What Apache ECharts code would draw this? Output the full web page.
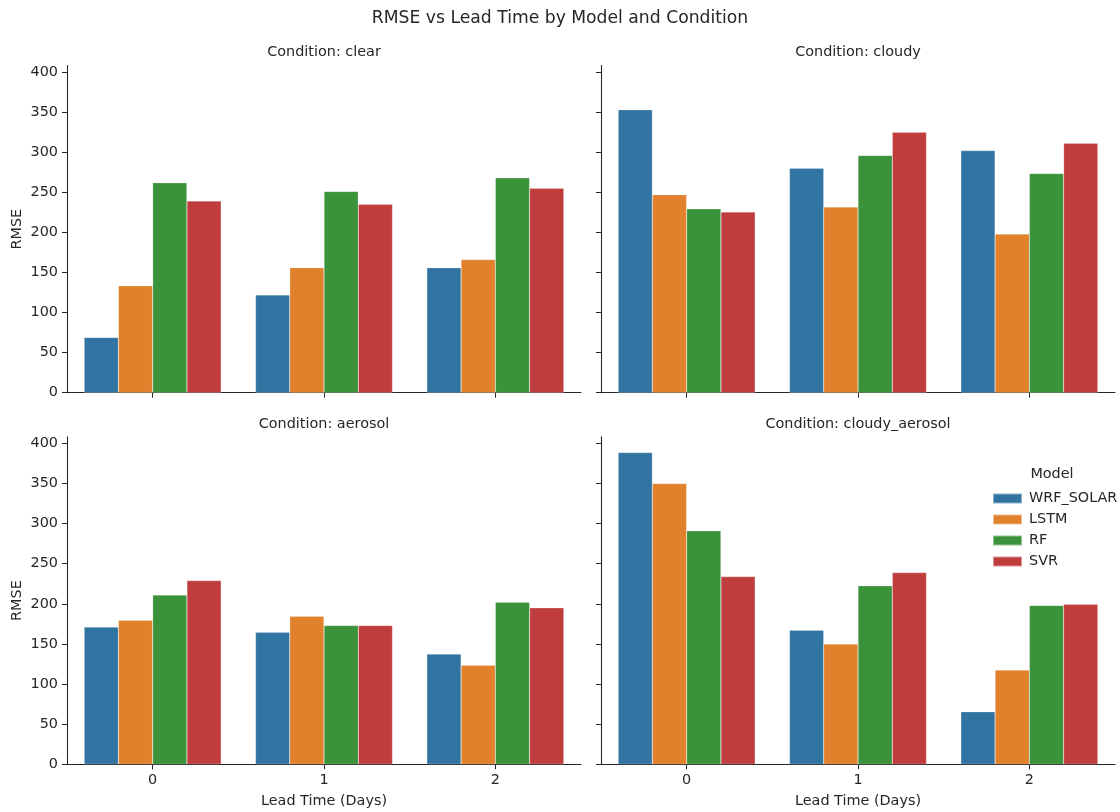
<!DOCTYPE html>
<html>
<head>
<meta charset="utf-8">
<title>RMSE vs Lead Time by Model and Condition</title>
<script src="https://cdn.jsdelivr.net/npm/echarts@6/dist/echarts.min.js"></script>
<style>
  html, body { margin: 0; padding: 0; background: #ffffff; }
  #chart { width: 1120px; height: 812px; }
</style>
</head>
<body>
<div id="chart"></div>
<script>
// Lead times (days) on the x axis of every panel
const leadTimes = ['0', '1', '2'];
// Forecast models, one bar series each
const models = ['WRF_SOLAR', 'LSTM', 'RF', 'SVR'];
// Sky conditions, one panel each
const conditions = ['clear', 'cloudy', 'aerosol', 'cloudy_aerosol'];
// RMSE tick values shown on the y axes
const rmseTicks = [0, 50, 100, 150, 200, 250, 300, 350, 400];

// RMSE per condition: rows follow `models`, columns follow `leadTimes`
const rmseClear = [
  [69, 122, 156],
  [133.5, 156, 166],
  [262, 251, 268],
  [239, 235, 255]
];
const rmseCloudy = [
  [353, 280, 302],
  [247, 231.5, 198],
  [229.5, 296, 273.5],
  [225.5, 325, 311]
];
const rmseAerosol = [
  [171, 164.5, 137.5],
  [179.5, 184.5, 123.5],
  [211, 173, 202],
  [229, 173, 195]
];
const rmseCloudyAerosol = [
  [388.5, 167, 65.5],
  [350, 150, 117.5],
  [291, 222.5, 198],
  [234, 239, 199.5]
];
const panelData = [rmseClear, rmseCloudy, rmseAerosol, rmseCloudyAerosol];

const modelColors = ['#3274a1', '#e1812c', '#3a923a', '#c03d3e'];
const FONT = 'DejaVu Sans';
const INK = '#262626';
const LABEL_SIZE = 14.4;

// Panel boxes: [left, top, width, height]
const boxes = [
  [67, 65.6, 514, 327.1],
  [601, 65.6, 514, 327.1],
  [67, 436.9, 514, 327.4],
  [601, 436.9, 514, 327.4]
];
const Y_MAX = 408;

const grids = [], xAxes = [], yAxes = [], series = [];
boxes.forEach((b, i) => {
  const isLeft = i % 2 === 0;
  const isBottom = i >= 2;
  grids.push({ left: b[0], top: b[1], width: b[2], height: b[3], containLabel: false });
  xAxes.push({
    gridIndex: i,
    type: 'category',
    data: leadTimes,
    boundaryGap: true,
    axisLine: { show: true, lineStyle: { color: INK, width: 1.1 } },
    axisTick: { show: true, alignWithLabel: true, length: 5, lineStyle: { color: INK, width: 1 } },
    axisLabel: { show: isBottom, color: INK, fontFamily: FONT, fontSize: LABEL_SIZE, margin: 9 },
    splitLine: { show: false },
    name: isBottom ? 'Lead Time (Days)' : '',
    nameLocation: 'middle',
    nameGap: 30,
    nameTextStyle: { color: INK, fontFamily: FONT, fontSize: LABEL_SIZE }
  });
  yAxes.push({
    gridIndex: i,
    type: 'value',
    min: 0,
    max: Y_MAX,
    interval: 50,
    axisLine: { show: true, lineStyle: { color: INK, width: 1.1 } },
    axisTick: { show: true, length: 5, customValues: rmseTicks, lineStyle: { color: INK, width: 1 } },
    axisLabel: { show: isLeft, customValues: rmseTicks, color: INK, fontFamily: FONT, fontSize: LABEL_SIZE, margin: 9 },
    splitLine: { show: false },
    name: isLeft ? 'RMSE' : '',
    nameLocation: 'middle',
    nameRotate: 90,
    nameGap: 43,
    nameTextStyle: { color: INK, fontFamily: FONT, fontSize: LABEL_SIZE }
  });
  models.forEach((m, k) => {
    series.push({
      name: m,
      type: 'bar',
      xAxisIndex: i,
      yAxisIndex: i,
      data: panelData[i][k],
      barGap: '0%',
      barCategoryGap: '20%',
      itemStyle: { color: modelColors[k], borderColor: 'rgba(255,255,255,0.45)', borderWidth: 0.5 },
      emphasis: { disabled: true },
      silent: true
    });
  });
});

// Figure title, panel titles and legend heading
const texts = [
  { x: 560, y: 19, text: 'RMSE vs Lead Time by Model and Condition', size: 17.2 },
  { x: 324, y: 52, text: 'Condition: ' + conditions[0], size: LABEL_SIZE },
  { x: 858, y: 52, text: 'Condition: ' + conditions[1], size: LABEL_SIZE },
  { x: 324, y: 424, text: 'Condition: ' + conditions[2], size: LABEL_SIZE },
  { x: 858, y: 424, text: 'Condition: ' + conditions[3], size: LABEL_SIZE },
  { x: 1052, y: 474, text: 'Model', size: LABEL_SIZE }
];

const option = {
  backgroundColor: '#ffffff',
  animation: false,
  textStyle: { fontFamily: FONT },
  grid: grids,
  xAxis: xAxes,
  yAxis: yAxes,
  series: series,
  legend: {
    data: models,
    orient: 'vertical',
    left: 987,
    top: 486.5,
    itemWidth: 29,
    itemHeight: 10,
    itemGap: 7,
    icon: 'rect',
    textStyle: { color: INK, fontFamily: FONT, fontSize: LABEL_SIZE, padding: [0, 0, 0, 2] },
    selectedMode: false
  },
  graphic: texts.map(t => ({
    type: 'text',
    x: t.x,
    y: t.y,
    style: {
      text: t.text,
      fill: INK,
      font: t.size + 'px "' + FONT + '"',
      align: 'center',
      verticalAlign: 'middle'
    }
  }))
};

const chart = echarts.init(document.getElementById('chart'), null, { renderer: 'canvas' });
chart.setOption(option);
</script>
</body>
</html>
